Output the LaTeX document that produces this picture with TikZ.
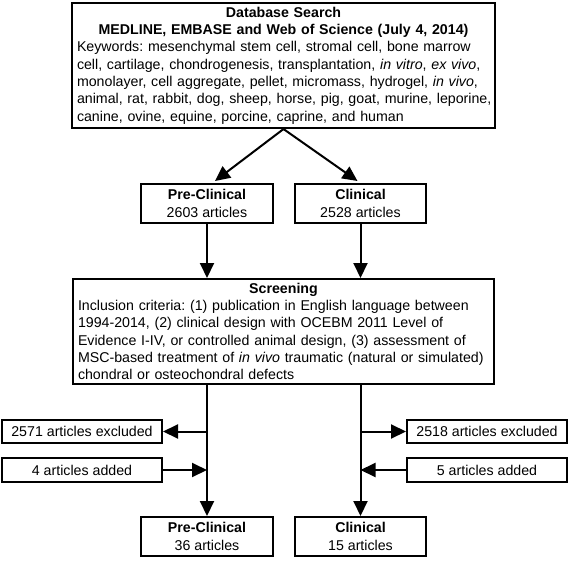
\documentclass[tikz,border=0pt]{standalone}
\usepackage{fontspec}
\setmainfont{Liberation Sans}
\usetikzlibrary{arrows.meta}
\frenchspacing
\begin{document}
\begin{tikzpicture}[x=1pt,y=-1pt,
  box/.style={draw=black, line width=2pt, fill=white, inner sep=0pt, align=center,
     font=\fontsize{14.2}{17.3}\selectfont\frenchspacing},
  bigbox/.style={draw=black, line width=2pt, anchor=north west, inner xsep=5pt, inner ysep=4pt,
     font=\fontsize{14.2}{17.3}\selectfont\frenchspacing},
  conn/.style={line width=2pt, -{Triangle[length=15pt,width=14pt]}}
]
\useasboundingbox (0,0) rectangle (569,561);
\node[bigbox, text width=413pt] (top) at (71,2) {%
  {\centering\bfseries Database Search\\ \mbox{MEDLINE, EMBASE and Web of Science (July 4, 2014)}\par}
  \raggedright \mbox{Keywords: mesenchymal stem cell, stromal cell, bone marrow}\\
  \mbox{cell, cartilage, chondrogenesis, transplantation, \textit{in vitro}, \textit{ex vivo},}\\
  \mbox{monolayer, cell aggregate, pellet, micromass, hydrogel, \textit{in vivo},}\\
  \mbox{animal, rat, rabbit, dog, sheep, horse, pig, goat, murine, leporine,}\\
  \mbox{canine, ovine, equine, porcine, caprine, and human}\par};
\node[box, minimum width=132pt, minimum height=39pt] (pre1) at (207,203.5) {\textbf{Pre-Clinical}\\2603 articles};
\node[box, minimum width=131pt, minimum height=39pt] (cli1) at (360.5,203.5) {\textbf{Clinical}\\2528 articles};
\node[bigbox, text width=411pt] (scr) at (72,278) {%
  {\centering\bfseries Screening\par}
  \raggedright \mbox{Inclusion criteria: (1) publication in English language between}\\
  \mbox{1994-2014, (2) clinical design with OCEBM 2011 Level of}\\
  \mbox{Evidence I-IV, or controlled animal design, (3) assessment of}\\
  \mbox{MSC-based treatment of \textit{in vivo} traumatic (natural or simulated)}\\
  \mbox{chondral or osteochondral defects}\par};
\node[box, minimum width=160pt, minimum height=23pt] (exl) at (82,431.5) {2571 articles excluded};
\node[box, minimum width=160pt, minimum height=24pt] (adl) at (82,470) {4 articles added};
\node[box, minimum width=160pt, minimum height=23pt] (exr) at (487,431.5) {2518 articles excluded};
\node[box, minimum width=160pt, minimum height=24pt] (adr) at (487,470) {5 articles added};
\node[box, minimum width=132pt, minimum height=39pt] (pre2) at (207,536.5) {\textbf{Pre-Clinical}\\36 articles};
\node[box, minimum width=131pt, minimum height=39pt] (cli2) at (360.5,536.5) {\textbf{Clinical}\\15 articles};
\draw[conn] (top.south) -- ([xshift=8pt,yshift=2pt]pre1.north);
\draw[conn] (top.south) -- ([xshift=-3pt,yshift=2pt]cli1.north);
\draw[conn] (pre1.south) -- (pre1.south |- scr.north);
\draw[conn] (cli1.south) -- (cli1.south |- scr.north);
\draw[conn] (pre2.north |- scr.south) -- (pre2.north);
\draw[conn] (cli2.north |- scr.south) -- (cli2.north);
\draw[conn] (exl.east -| pre2.north) -- (exl.east);
\draw[conn] (adl.east) -- (adl.east -| pre2.north);
\draw[conn] (exr.west -| cli2.north) -- (exr.west);
\draw[conn] (adr.west) -- (adr.west -| cli2.north);
\end{tikzpicture}
\end{document}
